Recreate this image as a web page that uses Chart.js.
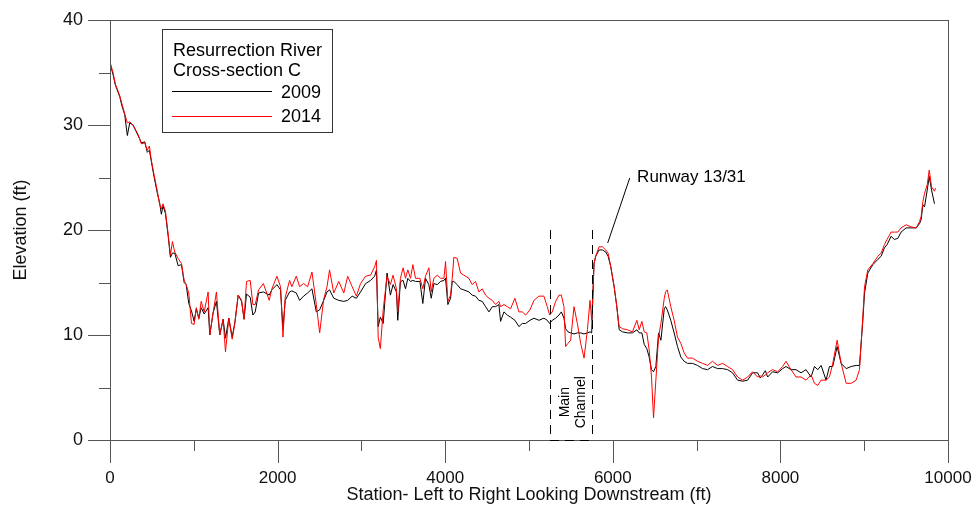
<!DOCTYPE html>
<html>
<head>
<meta charset="utf-8">
<script src="https://cdn.jsdelivr.net/npm/chart.js@4.4.1/dist/chart.umd.min.js"></script>
<style>
  html, body { margin: 0; padding: 0; background: #fff; }
  #wrap { width: 976px; height: 512px; }
</style>
</head>
<body>
<div id="wrap"><canvas id="xsec" width="976" height="512"></canvas></div>
<script>
// Station (ft) and elevation (ft)
const stations = [
  0, 36, 64, 116, 143, 175, 207, 235, 275, 335, 375, 415, 445, 470, 494, 525, 565, 594, 613, 632,
  661, 693, 721, 745, 773, 813, 853, 885, 909, 940, 972, 1004, 1030, 1060, 1088, 1124, 1171, 1191, 1230, 1270,
  1310, 1350, 1378, 1418, 1458, 1490, 1530, 1570, 1600, 1629, 1673, 1705, 1733, 1773, 1830, 1900, 1932, 1992, 2035, 2064,
  2091, 2143, 2170, 2223, 2263, 2310, 2358, 2410, 2462, 2502, 2550, 2590, 2620, 2670, 2730, 2790, 2836, 2890, 2940, 2990,
  3050, 3110, 3158, 3180, 3200, 3226, 3260, 3306, 3346, 3378, 3418, 3434, 3466, 3498, 3526, 3554, 3586, 3614, 3646, 3698,
  3733, 3765, 3805, 3833, 3865, 3905, 3945, 3985, 4004, 4032, 4064, 4084, 4103, 4143, 4183, 4223, 4283, 4322, 4362, 4402,
  4442, 4482, 4522, 4562, 4601, 4641, 4661, 4701, 4741, 4780, 4832, 4880, 4920, 4960, 5012, 5059, 5118, 5178, 5218, 5246,
  5278, 5318, 5358, 5386, 5417, 5437, 5465, 5497, 5537, 5577, 5617, 5657, 5697, 5728, 5748, 5776, 5796, 5836, 5876, 5916,
  5944, 5976, 6016, 6048, 6076, 6116, 6175, 6235, 6287, 6315, 6347, 6375, 6406, 6434, 6462, 6486, 6514, 6546, 6574, 6614,
  6630, 6650, 6692, 6732, 6772, 6812, 6851, 6891, 6951, 7011, 7071, 7131, 7190, 7250, 7310, 7370, 7429, 7489, 7549, 7609,
  7668, 7728, 7760, 7788, 7820, 7848, 7907, 7967, 8027, 8067, 8127, 8186, 8246, 8306, 8366, 8406, 8446, 8486, 8545, 8585,
  8625, 8677, 8725, 8785, 8844, 8904, 8944, 8984, 9004, 9043, 9103, 9163, 9202, 9241, 9273, 9321, 9360, 9401, 9440, 9500,
  9560, 9620, 9660, 9680, 9700, 9720, 9752, 9776, 9804, 9839, 9851
];

const elev2009 = [
  35.9, 34.8, 33.8, 32.7, 31.8, 31.0, 29.0, 30.2, 30.0, 29.0, 28.3, 28.4, 27.4, 27.6, 26.5, 25.1, 23.5, 22.5, 21.5, 22.3,
  21.6, 19.5, 17.4, 17.8, 17.8, 16.6, 16.7, 15.0, 14.8, 13.0, 12.3, 11.3, 12.5, 11.6, 12.6, 12.0, 12.6, 10.0, 12.1, 13.2,
  10.0, 11.5, 9.7, 11.6, 9.8, 11.2, 13.8, 13.2, 11.5, 13.9, 13.6, 11.9, 12.2, 14.0, 14.1, 13.8, 14.3, 14.8, 14.3, 10.6,
  13.3, 14.1, 14.2, 14.0, 13.3, 13.7, 14.0, 14.4, 12.2, 12.4, 13.3, 14.1, 14.3, 13.5, 13.3, 13.2, 13.3, 13.7, 13.5, 14.1,
  14.9, 15.2, 15.6, 16.2, 10.8, 11.7, 11.1, 15.9, 13.8, 14.8, 14.1, 11.4, 15.1, 15.2, 14.4, 15.4, 15.1, 15.2, 15.1, 15.1,
  13.0, 15.4, 14.8, 13.5, 14.9, 14.8, 15.1, 15.2, 15.4, 12.9, 13.5, 15.1, 15.1, 14.8, 14.4, 14.3, 14.1, 13.8, 13.7, 13.3,
  13.2, 12.7, 12.2, 12.7, 12.7, 12.9, 11.3, 12.2, 11.9, 11.7, 11.4, 10.8, 11.1, 11.1, 11.4, 11.6, 11.4, 11.6, 11.4, 11.1,
  11.4, 11.6, 11.9, 12.2, 11.6, 10.6, 10.3, 10.2, 10.1, 10.2, 10.2, 10.1, 10.2, 10.3, 10.2, 16.8, 17.5, 18.1, 18.1, 17.9,
  17.5, 16.5, 14.6, 12.7, 10.5, 10.3, 10.2, 10.2, 10.5, 10.2, 10.2, 9.1, 8.7, 7.9, 6.7, 6.5, 7.0, 10.2, 9.5, 12.5,
  12.7, 12.4, 11.4, 10.2, 8.9, 7.9, 7.5, 7.3, 7.3, 7.1, 6.8, 6.7, 7.0, 6.8, 6.8, 6.7, 6.4, 5.7, 5.6, 5.7,
  6.4, 6.4, 5.9, 6.2, 6.6, 6.0, 6.5, 6.4, 6.8, 7.0, 6.7, 6.7, 6.4, 6.7, 6.0, 7.0, 6.7, 7.1, 5.7, 7.0,
  7.0, 8.9, 7.3, 6.8, 7.0, 7.1, 7.1, 11.4, 14.0, 15.9, 16.7, 17.2, 17.5, 18.3, 18.6, 19.4, 19.1, 19.2, 19.8, 20.2,
  20.2, 20.2, 20.6, 21.0, 22.4, 22.2, 23.8, 25.1, 23.8, 22.5, null
];

const elev2014 = [
  36.0, 35.0, 33.9, 32.8, 32.0, 31.1, 30.2, 30.3, 30.0, 29.1, 28.2, 28.3, 27.6, 28.0, 26.6, 25.3, 23.7, 22.4, 22.0, 22.5,
  21.8, 19.7, 17.6, 18.9, 17.9, 17.3, 16.8, 15.2, 14.8, 14.0, 11.1, 11.0, 12.6, 11.5, 13.2, 12.2, 14.1, 10.0, 12.1, 14.1,
  10.0, 11.5, 8.4, 11.6, 9.6, 11.1, 13.8, 13.3, 11.5, 15.1, 15.2, 12.9, 12.9, 14.3, 14.9, 13.3, 14.4, 15.6, 14.6, 9.8,
  13.6, 15.2, 14.6, 15.6, 14.6, 14.9, 14.6, 16.0, 12.9, 10.2, 13.4, 14.6, 16.2, 14.0, 15.1, 14.0, 15.6, 14.6, 13.7, 14.9,
  15.6, 15.7, 16.5, 17.1, 9.8, 8.7, 12.4, 15.6, 14.8, 15.7, 14.4, 12.2, 15.4, 16.4, 15.4, 16.2, 15.4, 16.7, 15.4, 15.4,
  14.4, 15.6, 16.4, 14.1, 15.4, 15.7, 15.4, 15.4, 17.0, 13.2, 13.8, 15.4, 17.4, 17.3, 15.9, 15.7, 15.4, 14.8, 15.1, 14.1,
  14.4, 13.8, 13.5, 13.3, 12.9, 13.2, 12.7, 12.9, 12.7, 12.5, 13.5, 12.2, 12.2, 11.9, 12.4, 13.3, 13.7, 13.7, 12.7, 11.9,
  12.2, 13.2, 13.8, 13.8, 12.7, 8.9, 9.2, 9.5, 12.7, 11.1, 9.2, 7.8, 10.5, 13.3, 11.4, 16.8, 17.5, 18.4, 18.4, 18.1,
  17.8, 16.5, 14.6, 12.7, 10.8, 10.6, 10.5, 10.3, 11.4, 10.5, 11.3, 10.3, 10.2, 8.6, 6.0, 2.1, 5.7, 9.8, 11.1, 13.5,
  14.1, 14.3, 12.7, 11.4, 9.8, 9.2, 8.3, 7.8, 7.8, 7.5, 7.3, 7.1, 7.5, 7.1, 7.3, 7.0, 6.7, 6.0, 5.7, 6.0,
  6.5, 6.0, 6.1, 6.0, 6.2, 6.4, 6.7, 6.5, 7.0, 7.5, 6.7, 6.0, 6.0, 5.7, 6.2, 5.4, 5.2, 5.7, 5.7, 6.0,
  7.3, 9.5, 7.3, 5.4, 5.4, 5.7, 6.7, 11.8, 14.6, 16.2, 16.8, 17.5, 17.8, 18.6, 19.1, 19.8, 19.8, 19.8, 20.2, 20.5,
  20.3, 20.2, 20.8, 21.3, 22.7, 23.5, 24.3, 25.7, 24.1, 23.7, 24.0
];

const seriesNames = ['2009', '2014'];
const legendTitle = ['Resurrection River', 'Cross-section C'];
const channelEdges = [5250, 5756];
const xTicks = [0, 2000, 4000, 6000, 8000, 10000];
const yTicks = [0, 10, 20, 30, 40];

const FONT = '"Liberation Sans", Arial, sans-serif';
const AXIS = '#555';

const toPoints = ys => stations.map((s, i) => ({ x: s, y: ys[i] }));

// frame, tick marks + labels, axis titles, legend box and the two callouts
const decor = {
  id: 'decor',
  afterDraw(chart) {
    const ctx = chart.ctx;
    const xs = chart.scales.x, ys = chart.scales.y;
    const L = xs.left, R = xs.right, T = ys.top, B = ys.bottom;

    ctx.save();
    ctx.strokeStyle = AXIS;
    ctx.lineWidth = 1;
    ctx.beginPath();
    ctx.moveTo(L - 22, B + 0.5); ctx.lineTo(R, B + 0.5);
    ctx.moveTo(L + 0.5, T); ctx.lineTo(L + 0.5, B);
    ctx.moveTo(L, T + 0.5); ctx.lineTo(R, T + 0.5);
    ctx.moveTo(R + 0.5, T); ctx.lineTo(R + 0.5, B);
    for (let v = 0; v <= 10000; v += 1000) {
      const px = Math.round(xs.getPixelForValue(v)) + 0.5;
      const len = v % 2000 === 0 ? 23 : 11;
      ctx.moveTo(px, B); ctx.lineTo(px, B + len);
    }
    for (let v = 5; v <= 40; v += 5) {
      const py = Math.round(ys.getPixelForValue(v)) + 0.5;
      const len = v % 10 === 0 ? 22 : 11;
      ctx.moveTo(L, py); ctx.lineTo(L - len, py);
    }
    ctx.stroke();

    // tick labels
    ctx.fillStyle = '#111';
    ctx.font = '17px ' + FONT;
    ctx.textAlign = 'center';
    ctx.textBaseline = 'middle';
    xTicks.forEach(v => ctx.fillText(String(v), xs.getPixelForValue(v), B + 38));
    ctx.font = '18px ' + FONT;
    ctx.textAlign = 'right';
    yTicks.forEach(v => ctx.fillText(String(v), L - 27, ys.getPixelForValue(v)));

    // axis titles
    ctx.textAlign = 'center';
    ctx.fillText('Station- Left to Right Looking Downstream (ft)', (L + R) / 2, 495);
    ctx.save();
    ctx.translate(21, (T + B) / 2);
    ctx.rotate(-Math.PI / 2);
    ctx.fillText('Elevation (ft)', 0, 0);
    ctx.restore();

    // main channel dashed bounds
    ctx.strokeStyle = '#000';
    ctx.setLineDash([9, 6]);
    ctx.beginPath();
    channelEdges.forEach(s => {
      const px = Math.round(xs.getPixelForValue(s)) + 0.5;
      ctx.moveTo(px, ys.getPixelForValue(20));
      ctx.lineTo(px, B);
    });
    ctx.moveTo(xs.getPixelForValue(channelEdges[0]), B + 0.5);
    ctx.lineTo(xs.getPixelForValue(channelEdges[1]), B + 0.5);
    ctx.stroke();
    ctx.setLineDash([]);

    ctx.fillStyle = '#000';
    ctx.font = '14px ' + FONT;
    ctx.save();
    const cx = (xs.getPixelForValue(channelEdges[0]) + xs.getPixelForValue(channelEdges[1])) / 2;
    ctx.translate(cx + 2, ys.getPixelForValue(3.6));
    ctx.rotate(-Math.PI / 2);
    ctx.textAlign = 'center';
    ctx.textBaseline = 'middle';
    ctx.fillText('Main', 0, -8);
    ctx.fillText('Channel', 0, 8);
    ctx.restore();

    // runway callout
    ctx.beginPath();
    ctx.moveTo(xs.getPixelForValue(6202), ys.getPixelForValue(24.95));
    ctx.lineTo(xs.getPixelForValue(5939), ys.getPixelForValue(18.76));
    ctx.stroke();
    ctx.font = '17px ' + FONT;
    ctx.textAlign = 'left';
    ctx.textBaseline = 'middle';
    ctx.fillText('Runway 13/31', xs.getPixelForValue(6290), ys.getPixelForValue(25.0));

    // legend
    ctx.strokeStyle = '#333';
    ctx.strokeRect(162.5, 29.5, 170, 103);
    ctx.font = '18px ' + FONT;
    ctx.textBaseline = 'alphabetic';
    ctx.fillText(legendTitle[0], 173, 56);
    ctx.fillText(legendTitle[1], 173, 76);
    const ds = chart.data.datasets;
    [[ds[0], 98, 91], [ds[1], 122, 116]].forEach(([d, base, ly]) => {
      ctx.strokeStyle = d.borderColor;
      ctx.beginPath();
      ctx.moveTo(172, ly + 0.5); ctx.lineTo(272, ly + 0.5);
      ctx.stroke();
      ctx.textAlign = 'right';
      ctx.fillText(d.label, 321, base);
    });
    ctx.restore();
  }
};

new Chart(document.getElementById('xsec'), {
  type: 'line',
  data: {
    datasets: [
      { label: seriesNames[0], data: toPoints(elev2009), borderColor: '#000000', borderWidth: 1, pointRadius: 0, tension: 0, order: 1 },
      { label: seriesNames[1], data: toPoints(elev2014), borderColor: '#ff0000', borderWidth: 1, pointRadius: 0, tension: 0, order: 0 }
    ]
  },
  options: {
    responsive: false,
    animation: false,
    layout: { padding: { top: 20, right: 28, left: 0, bottom: 0 } },
    plugins: { legend: { display: false }, tooltip: { enabled: false } },
    scales: {
      x: {
        type: 'linear', min: 0, max: 10000,
        afterBuildTicks: s => { s.ticks = xTicks.map(v => ({ value: v })); },
        afterFit: s => { s.height = 72; },
        grid: { display: false, drawTicks: false },
        border: { display: false },
        ticks: { display: false }
      },
      y: {
        min: 0, max: 40,
        afterBuildTicks: s => { s.ticks = yTicks.map(v => ({ value: v })); },
        afterFit: s => { s.width = 110; },
        grid: { display: false, drawTicks: false },
        border: { display: false },
        ticks: { display: false }
      }
    }
  },
  plugins: [decor]
});
</script>
</body>
</html>
